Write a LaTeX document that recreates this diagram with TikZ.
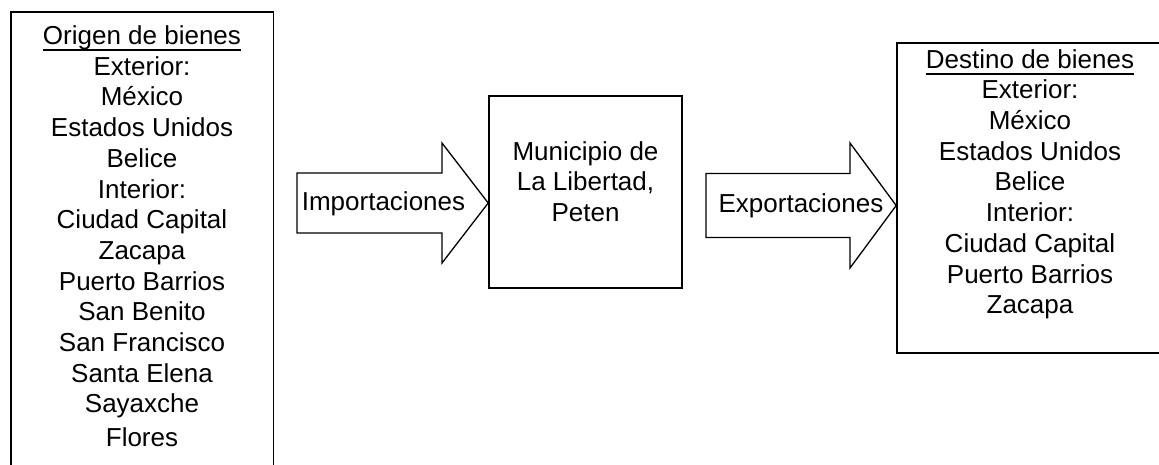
\documentclass[tikz,border=0pt]{standalone}
\usepackage{fontspec}
\setmainfont{Liberation Sans}
\newsavebox\subbox
\newcommand{\subrayado}[1]{\sbox\subbox{#1}\rlap{\rule[-6.5pt]{\wd\subbox}{1.6pt}}\usebox\subbox}
\begin{document}
\begin{tikzpicture}[x=1pt,y=-1pt,
  every node/.style={font=\fontsize{26}{30.7}\selectfont},
  caja/.style={draw,line width=1.6pt,align=center,inner sep=0pt},
  flecha/.style={draw,line width=1.3pt,line join=miter}]
  \clip (0,0) rectangle (1159,464);
  % cajas
  \node[caja,minimum width=262.6pt,minimum height=458pt,text depth=9.7pt] (origen) at (142,241)
    {\subrayado{Origen de bienes}\\Exterior:\\México\\Estados Unidos\\Belice\\Interior:\\Ciudad Capital\\Zacapa\\Puerto Barrios\\San Benito\\San Francisco\\Santa Elena\\Sayaxche\\[3pt]Flores};
  \node[caja,minimum width=193pt,minimum height=192pt,text depth=21pt] (municipio) at (585.5,192)
    {Municipio de\\La Libertad,\\Peten};
  \node[caja,minimum width=266pt,minimum height=310pt,text depth=33pt] (destino) at (1030,198)
    {\subrayado{Destino de bienes}\\Exterior:\\México\\Estados Unidos\\Belice\\Interior:\\Ciudad Capital\\Puerto Barrios\\Zacapa};
  % flechas
  \draw[flecha] (297,173) -- (442,173) -- (442,143) -- (municipio.west |- 0,203)
    -- (442,263) -- (442,233) -- (297,233) -- cycle;
  \node[anchor=base] (importaciones) at (383.5,210) {Importaciones};
  \draw[flecha] (706,173.5) -- (850,173.5) -- (850,143) -- (destino.west |- 0,205.5)
    -- (850,268) -- (850,237.5) -- (706,237.5) -- cycle;
  \node[anchor=base] (exportaciones) at (801,212) {Exportaciones};
\end{tikzpicture}
\end{document}
